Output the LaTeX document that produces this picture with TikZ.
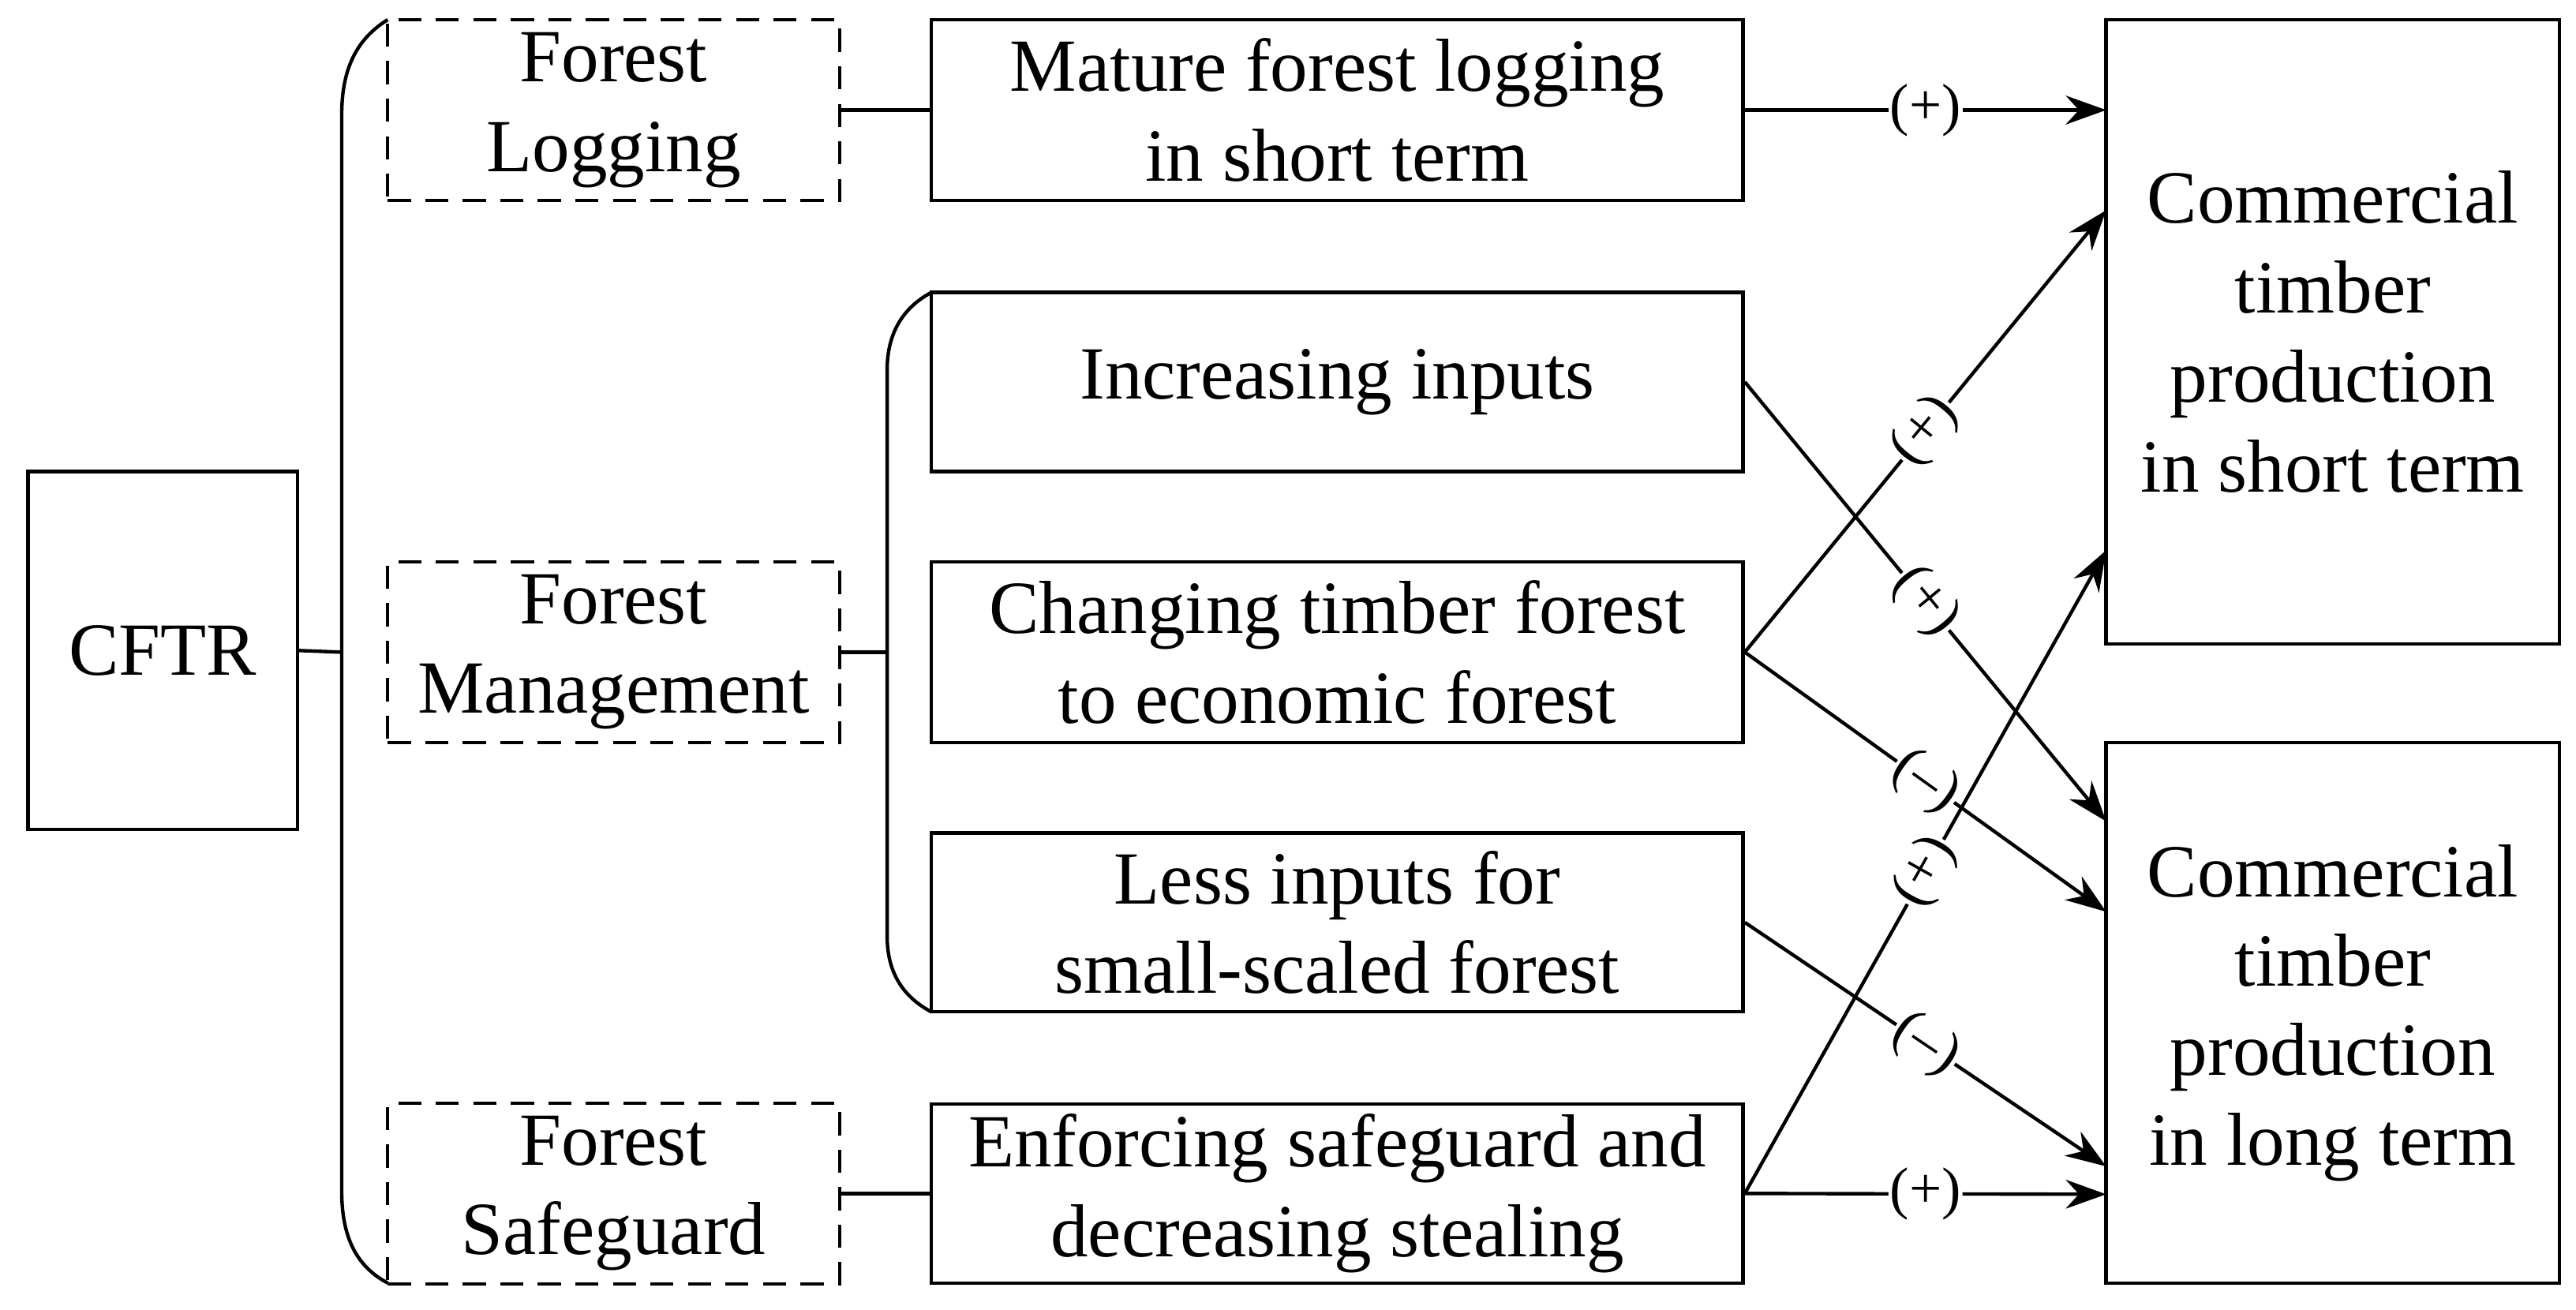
\documentclass[tikz,border=0pt]{standalone}
\usepackage{fontspec}
\setmainfont{Liberation Serif}
\usetikzlibrary{arrows.meta}
\begin{document}
\begin{tikzpicture}[x=0.02cm,y=-0.02cm,
 box/.style={draw,line width=1.2pt,font=\fontsize{26}{31}\selectfont,align=center,inner sep=0pt},
 dbox/.style={box,dash pattern=on 8pt off 5pt},
 arr/.style={line width=1.2pt,-{Stealth[length=14pt,width=10pt]}},
 lab/.style={font=\fontsize{20}{22}\selectfont,fill=white,inner sep=0.5pt,sloped}]
\useasboundingbox (0,0) rectangle (1568,797);
\node[box,minimum width=164*0.02cm,minimum height=218*0.02cm] (cftr) at (99,396) {CFTR};
\node[dbox,minimum width=275*0.02cm,minimum height=110*0.02cm] (fl) at (373.5,67) {Forest\\Logging};
\node[dbox,minimum width=275*0.02cm,minimum height=110*0.02cm] (fm) at (373.5,397) {Forest\\Management};
\node[dbox,minimum width=275*0.02cm,minimum height=110*0.02cm] (fs) at (373.5,726.5) {Forest\\Safeguard};
\tikzset{mb/.style={box,minimum width=494*0.02cm,minimum height=110*0.02cm}}
\node[mb] (m1) at (814,67) {Mature forest logging\\in short term};
\node[mb,minimum height=109*0.02cm] (m2) at (814,232.5) {Increasing inputs};
\node[mb] (m3) at (814,397) {Changing timber forest\\to economic forest};
\node[mb,minimum height=109*0.02cm] (m4) at (814,561.5) {Less inputs for\\small-scaled forest};
\node[mb,minimum height=109*0.02cm] (m5) at (814,726.5) {Enforcing safeguard and\\decreasing stealing};
\node[box,minimum width=276*0.02cm,minimum height=380*0.02cm] (r1) at (1420,202) {Commercial\\timber\\production\\in short term};
\node[box,minimum width=276*0.02cm,minimum height=329*0.02cm] (r2) at (1420,616.5) {Commercial\\timber\\production\\in long term};
\coordinate (b1) at (208,397);
\coordinate (b2) at (540,397);
\draw[line width=1.2pt] (cftr.east) -- (b1);
\draw[line width=1.2pt] (236,12) .. controls (215,25) and (208,45) .. (208,70) -- (208,725) .. controls (208,750) and (215,770) .. (236,781);
\draw[line width=1.2pt] (fm.east) -- (b2);
\draw[line width=1.2pt] (567,178) .. controls (548,188) and (540,205) .. (540,225) -- (540,570) .. controls (540,590) and (548,606) .. (567,616);
\draw[line width=1.2pt] (fl.east) -- (m1.west);
\draw[line width=1.2pt] (fs.east) -- (m5.west);
\draw[arr] (m1.east) -- node[lab]{(+)} (1282,67);
\draw[arr] (m3.east) -- node[lab,pos=0.5]{(+)} (1282,128);
\draw[arr] (m2.east) -- node[lab,pos=0.5]{(+)} (1282,500);
\draw[arr] (m3.east) -- node[lab,pos=0.5]{(--)} (1282,555);
\draw[arr] (m5.east) -- node[lab,pos=0.5]{(+)} (1282,335);
\draw[arr] (m4.east) -- node[lab,pos=0.5]{(--)} (1282,710);
\draw[arr] (m5.east) -- node[lab]{(+)} (1282,727);
\end{tikzpicture}
\end{document}
